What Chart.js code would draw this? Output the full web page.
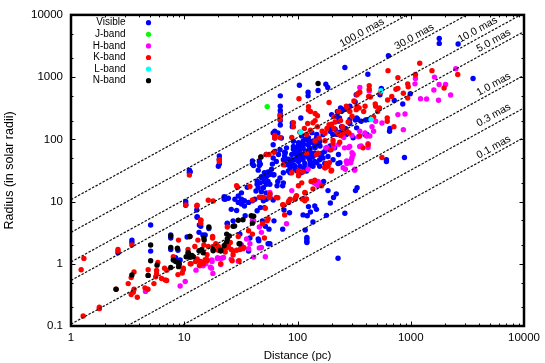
<!DOCTYPE html>
<html>
<head>
<meta charset="utf-8">
<title>Radius vs distance</title>
<script src="https://cdn.jsdelivr.net/npm/chart.js@4"></script>
<style>
    html, body { margin: 0; padding: 0; background: #fff; }
    canvas { display: block; }
</style>
</head>
<body>
<canvas id="chart" width="545" height="363"></canvas>
<script>
// [distance in pc, radius in solar radii]
const visiblePoints = [
    [2.6,1.5],[3.45,2.4],[3.45,2.2],[5.05,4.2],[5.05,1.6],[7.6,2.6],[7.6,1.7],[8.8,1.65],[8.4,1.25],[9.2,1.15],
    [10.3,10],[10.3,9.2],[10.3,8.7],[11.1,31.8],[11.1,29],[11.2,2.75],[10.6,2.7],[12.9,7.3],[13,5.7],[14,4],
    [13.5,3.2],[14.6,2.9],[16.5,3.7],[20.4,54],[20.4,48],[20.4,40],[22.5,11],[22.5,12],[24.5,11.3],[24,4.5],
    [40,45],[40,40],[47,40],[46,44],[53,57],[63,135],[63,120],[63,105],[44,21.5],[48.5,24],[52,28],[56,27],
    [44,19],[47,20],[51,21],[55,21],[53,19],[57,19],[50,16.7],[45,16.7],[43,14.8],[48,14.4],[53,13.8],[57,13],
    [61,27],[57,29],[51,29],[32,13.8],[30,12.3],[28,10.9],[32,10.9],[34,10.3],[30,9.7],[26,7.5],[29,7.2],[32,9.1],
    [34,8.5],[37,9.7],[40,10.3],[42,10.9],[47,11.6],[50,10.3],[53,10.9],[57,11.6],[61,10.6],[44,7.1],[47,8],[51,8],
    [23,10.9],[46,38],[41,38],[36,17],[11.3,30],[20,37],[13,5.6],[13.6,4.2],[15.3,2.9],[24,4.4],[27,4.9],[7.6,2.9],
    [45,2.5],[55,2.1],[31,3],[49,4.9],[57,2.1],[45.5,2.35],[37,1.6],[52,4],[56,3.6],[62,4.9],[34.5,5.9],[38,2.6],
    [61,127],[67,127],[72,105],[61,82],[63,64],[77,62],[77,54],[61,50],[65,44],[77,41],[92,93],[92,77],[102,82],
    [112,93],[120,99],[112,73],[105,68],[95,64],[89,57],[98,57],[108,57],[120,64],[128,73],[137,88],[147,105],
    [157,93],[168,119],[142,60],[157,57],[174,64],[193,68],[213,73],[186,53],[206,47],[228,41],[95,47],[102,44],
    [92,39],[86,35],[105,37],[116,41],[128,47],[142,44],[157,47],[174,41],[75,29],[83,31],[95,33],[108,29],[120,31],
    [137,37],[157,37],[67,21],[75,20],[66,18],[74,18],[59,33],[62,27],[186,15],[170,21],[220,13.3],[208,11.6],
    [195,9.5],[336,16.7],[325,15],[142,8.5],[147,7.5],[125,8.3],[130,6.8],[76,7.3],[85,6.6],[112,6.1],[122,5.9],
    [180,6],[262,6.5],[137,4.7],[74,3.6],[117,3.5],[121,2.64],[121,2.5],[121,2.3],[121,2.2],[228,1.23],
    [70,68],[80,73],[86,44],[128,93],[124,82],[142,77],[86,29],[78,39],[102,31],[132,60],[168,50],[98,73],[95,37],
    [120,54],[112,47],[70,24],[83,39],[105,54],[89,47],[116,35],
    [165,60],[135,52],[150,85],[110,78],[100,60],[130,42],[75,47],[60,40],[55,30],[45,32],
    [635,2200],[262,1430],[418,1110],[330,520],[323,400],[240,320],[225,280],[290,340],[255,300],[990,540],[715,420],
    [850,370],[655,150],[650,135],[550,660],[535,520],[400,205],[340,210],[325,205],[290,180],[245,160],[265,150],
    [215,145],[194,135],[235,130],[255,135],[205,120],[270,120],[235,220],[222,235],[410,120],[365,195],
    [1785,4190],[1785,3480],[2620,3400],[3550,950],[178,770],[185,680],[152,610],[124,570],[124,500],[104,740],
    [70.5,500],[70.5,340],[70.5,290],[70.5,256],[70.5,200],[90,183],[90,160],[107,220],[70.5,230],[70.5,170],
    [109,113],[117,100],[125,106],[113,83],[125,83],[138,94],[106,69],[117,65],[129,69],[143,73],[158,78],[99,51],
    [109,51],[125,51],[138,54],[89,38],[99,31],[113,35],[129,38],[148,42],[164,51],[78,61],[68,57],[83,48],[53,25],
    [48,25],[92,69],[102,88],[134,128],[148,120],[194,145],[230,196],[245,283],[200,250],[290,208],[333,221],
    [223,120],[253,145],[194,78],[230,57],[237,42],[310,106],[333,153],[425,208],[395,120],[610,47],[610,44],[880,51]
];
const jBandPoints = [[54,336]];
const hBandPoints = [
    [4.55,.36],[9.2,.44],[10.2,.52],[13.8,.93],[14.7,.93],[15.5,1],[12.7,.79],[17.4,.85],[17.9,.7],[17.6,1.09],
    [19.6,1.22],[21,1.22],[22.2,1.26],[19.7,1.25],[22,1.25],[17.5,1.15],[21,.97],[17,.88],[26,1.18],[30,1.1],
    [46,3.9],[48,3.2],[41,4.9],[35.5,2.5],[38,2.1],[37,1.75],[46,1.8],[41,1.28],[52,1.3],[40,5],[32,2],[48,1.83],
    [354,77],[406,113],[435,113],[289,77],[260,73],[310,57],[300,47],[270,44],[289,44],[273,41],[253,35],[320,32],
    [124,33],[152,21],[147,19],[152,18],[140,20],[116,10.9],[89,15],[80,4.4],[57,14],[178,73],
    [355,680],[430,600],[1100,1100],[1100,950],[1090,780],[2500,1360],[1620,1000],[1780,760],[2030,760],[1600,620],
    [2250,515],[1220,450],[1380,445],[1760,425],[890,256],[770,250],[860,143],[490,195],[557,183],[455,160],[355,135],
    [395,127],[470,135],[365,78],[420,85],[420,74],[303,61],[303,51],[273,45],[320,33],[265,33],[295,42],[182,74],
    [209,74],[231,83],[282,74],[256,107],[303,115],[345,110],[154,20]
];
const kBandPoints = [
    [1.23,.8],[1.3,1.22],[1.28,.145],[1.78,.2],[1.78,.19],[2.5,.39],[2.6,1.7],[2.6,1.6],[3.45,2],[3.2,.48],[3.4,.6],
    [3.6,.74],[3.6,.39],[3.55,.35],[3.4,.32],[3.85,.29],[4.5,.41],[4.78,.39],[4.8,.65],[5.85,1.05],[5.7,.78],[5.7,.69],
    [5.6,.62],[5.4,.48],[4.8,.8],[6.3,.58],[6.8,.55],[7,.54],[6.7,.85],[7,.79],[8,1.3],[9.8,.8],[9.6,.71],[8.8,.67],
    [8.9,2.4],[10.3,8.8],[11.1,26.6],[18,10.2],[12.9,8.5],[14,5],[14,4.5],[11.2,2.75],[13.2,2.4],[17.8,2.75],[17.8,2.6],
    [16.3,1.9],[18,1.9],[19,2.1],[10.8,1.7],[11.5,1],[12.6,1.09],[13.9,1.09],[15.3,1.16],[15.9,1.16],[21,1],
    [23,2.05],[23.7,1.83],[24.5,1.95],[22,1.7],[25.5,2.2],[24,3.9],[29.5,17],[20.4,47],[20.4,44],[47.5,52],[53,57],[56,57],
    [63,115],[63,105],[29,18],[38,17.5],[16.3,10.5],[13,8.7],[14,5],[57,13.3],[56,12],[67,11.5],[50,11.7],[46,11.7],
    [40,10.6],[52,7.8],[55,5.3],[49,4.4],[33,1.75],[31,1.7],[29,1.65],[26,1.7],[27,1.4],
    [11.3,1],[9.8,.85],[13.6,.94],[14.7,1],[15.9,1.13],[15.9,1.4],[13,1.2],[12.4,1.9],[14.9,2],[20,1.9],[24,1.85],
    [23,1.55],[20,1.65],[51,2.6],[27,1.6],[30.5,1.12],[26.5,1.12],[32.5,1.77],[33.5,1.83],[30,2.75],[40,3],[37,3.4],[54,4.9],
    [89,107],[70,107],[62,62],[120,60],[147,57],[152,60],[198,68],[206,96],[236,90],[253,127],[285,127],[354,113],
    [379,73],[420,82],[206,85],[180,41],[174,35],[186,37],[198,31],[102,31],[112,30],[89,29],[102,26],[142,22],[132,21],
    [109,20],[102,18],[137,16],[163,18],[116,14],[98,12.4],[95,10.9],[86,10.9],[83,9.7],[75,8.8],[116,10.3],[120,11],
    [77,6.1],[65,11.6],[57,11.6],[75,39],[84,10.2],[96,11.5],[117,13.8],[110,11],[74,8.9],
    [115,150],[130,140],[165,135],[175,125],[210,150],[225,125],[240,115],[120,120],[105,130],[155,105],[175,95],
    [215,190],[240,200],[280,190],[150,240],[130,280],
    [103,450],[125,336],[125,295],[143,260],[70,243],[70,210],[190,390],[92,185],[92,160],[123,180],[137,185],[150,160],
    [190,172],[272,336],[290,280],[330,300],[395,340],[440,480],[345,550],[490,340],
    [1200,1667],[630,1270],[770,980],[1540,1270],[2600,1100],[1100,1090],[940,780],[950,700],[770,660],[740,640],[860,550],
    [940,460],[1970,670],[625,430],[680,490],[540,570],[430,730],[430,640],[355,570],[335,520],[425,490],[315,415],
    [270,340],[280,300],[486,370],[530,320],[510,280],[384,280],[231,280],[209,230],[143,200],[200,175],[182,150],
    [250,160],[273,135],[303,235],[335,340],[350,320],[470,230],[620,220],[620,195],[710,160],[557,51],[143,94],
    [176,35],[191,42],[200,32],[256,135]
];
const lBandPoints = [[107,130],[447,208],[546,604]];
const nBandPoints = [
    [2.5,.39],[3.45,.66],[4.8,.65],[5.05,2],[5.05,1.12],[5.75,.95],[7.6,.87],[7.6,2.8],[7.6,1.83],[8.7,1.78],[8,1.15],
    [8.4,1.09],[8.8,1.05],[9.05,.99],[8.9,.9],[11.2,2.75],[10.8,1.5],[10.9,1.47],[11.7,1.36],[12,1.3],[11.3,1.27],[10.4,1.3],
    [13.5,1.62],[14.3,1.7],[14.7,1.5],[16.5,3.9],[14.9,2.6],[18,1.7],[18,1.62],[21,1.6],[21,1.65],[23.7,3],[25,2.8],[24,2.5],
    [23.7,2.25],[22.5,1.95],[27.8,4.05],[30,5],[39,5.9],[31,2.1],[41,5.8],[33,5.1],[27,4],[40,4.5],[30.5,2.1],[15,2.4],
    [47.5,52],[152,790]
];

const seriesNames = ['Visible', 'J-band', 'H-band', 'K-band', 'L-band', 'N-band'];
const seriesColors = ['#0000ff', '#00ff00', '#ff00ff', '#ff0000', '#00ffff', '#000000'];
const seriesPoints = [visiblePoints, jBandPoints, hBandPoints, kBandPoints, lBandPoints, nBandPoints];

// lines of constant angular diameter: radius at 1 pc and at 10000 pc
const lineNames = ['100.0 mas', '30.0 mas', '10.0 mas', '5.0 mas', '1.0 mas', '0.3 mas', '0.1 mas'];
const lineRadiusNear = [10.75, 3.2, 1.07, 0.54, 0.107, 0.032, 0.0107];
const lineRadiusFar = [107500, 32000, 10700, 5400, 1070, 320, 107];
const lineLabelDist = [371, 1074, 3900, 5400, 5400, 5400, 5400];
const lineLabelRad = [5155, 4450, 5760, 3840, 762, 244, 75];

const xTicks = [1,2,3,4,5,6,7,8,9,10,20,30,40,50,60,70,80,90,100,200,300,400,500,600,700,800,900,1000,2000,3000,4000,5000,6000,7000,8000,9000,10000];
const yTicks = [0.1,0.2,0.5,1,2,5,10,20,50,100,200,500,1000,2000,5000,10000];
const xTickLabels = [1,10,100,1000,10000];
const yTickLabels = [0.1,1,10,100,1000,10000];

const datasets = [];
lineNames.forEach((name, i) => {
    datasets.push({
        label: name,
        type: 'line',
        data: [{x: 1, y: lineRadiusNear[i]}, {x: 10000, y: lineRadiusFar[i]}],
        borderColor: '#111',
        borderWidth: 1.2,
        borderDash: [2.5, 1.5],
        pointRadius: 0,
        fill: false,
        order: 0
    });
});
seriesNames.forEach((name, i) => {
    datasets.push({
        label: name,
        data: seriesPoints[i].map(p => ({x: p[0], y: p[1]})),
        backgroundColor: seriesColors[i],
        borderWidth: 0,
        pointRadius: 2.7,
        order: 6 - i
    });
});

// frame, inward ticks on all four sides, legend and the slanted line labels
const decorations = {
    id: 'decorations',
    afterDraw(chart) {
        const ctx = chart.ctx;
        const area = chart.chartArea;
        const x = chart.scales.x;
        const y = chart.scales.y;
        ctx.save();

        ctx.strokeStyle = '#000';
        ctx.lineWidth = 1;
        ctx.beginPath();
        xTicks.forEach(v => {
            const px = Math.round(x.getPixelForValue(v)) + 0.5;
            const len = xTickLabels.includes(v) ? 4.5 : 2.5;
            ctx.moveTo(px, area.bottom); ctx.lineTo(px, area.bottom - len);
            ctx.moveTo(px, area.top); ctx.lineTo(px, area.top + len);
        });
        yTicks.forEach(v => {
            const py = Math.round(y.getPixelForValue(v)) + 0.5;
            const len = yTickLabels.includes(v) ? 4.5 : 2.5;
            ctx.moveTo(area.left, py); ctx.lineTo(area.left + len, py);
            ctx.moveTo(area.right, py); ctx.lineTo(area.right - len, py);
        });
        ctx.stroke();

        ctx.lineWidth = 2.5;
        ctx.strokeRect(area.left, area.top, area.right - area.left, area.bottom - area.top);

        ctx.font = '10px "Liberation Sans"';
        ctx.textBaseline = 'middle';
        ctx.textAlign = 'right';
        seriesNames.forEach((name, i) => {
            const rowY = 22.7 + i * 11.6;
            ctx.fillStyle = '#000';
            ctx.fillText(name, 125.5, rowY);
            ctx.fillStyle = seriesColors[i];
            ctx.beginPath();
            ctx.arc(148.5, rowY, 2.6, 0, Math.PI * 2);
            ctx.fill();
        });

        ctx.fillStyle = '#000';
        ctx.font = '10.5px "Liberation Sans"';
        ctx.textAlign = 'center';
        lineNames.forEach((name, i) => {
            ctx.save();
            ctx.translate(x.getPixelForValue(lineLabelDist[i]), y.getPixelForValue(lineLabelRad[i]));
            ctx.rotate(-29 * Math.PI / 180);
            ctx.fillText(name, 0, 0);
            ctx.restore();
        });
        ctx.restore();
    }
};

new Chart(document.getElementById('chart').getContext('2d'), {
    type: 'scatter',
    data: {datasets: datasets},
    options: {
        responsive: false,
        animation: false,
        layout: {padding: {top: 13, right: 21, left: 0, bottom: 0}},
        plugins: {legend: {display: false}, tooltip: {enabled: false}},
        scales: {
            x: {
                type: 'logarithmic',
                min: 1,
                max: 10000,
                afterBuildTicks: scale => { scale.ticks = xTicks.map(v => ({value: v})); },
                afterFit: scale => { scale.height = 37; },
                grid: {display: false, drawTicks: false},
                border: {display: false},
                ticks: {
                    autoSkip: false,
                    maxRotation: 0,
                    padding: 5,
                    color: '#000',
                    font: {family: 'Liberation Sans', size: 11.5},
                    callback: v => xTickLabels.includes(v) ? String(v) : ''
                },
                title: {
                    display: true,
                    text: 'Distance (pc)',
                    color: '#000',
                    padding: {top: 3, bottom: 0},
                    font: {family: 'Liberation Sans', size: 11.5}
                }
            },
            y: {
                type: 'logarithmic',
                min: 0.1,
                max: 10000,
                afterBuildTicks: scale => { scale.ticks = yTicks.map(v => ({value: v})); },
                afterFit: scale => { scale.width = 71; },
                grid: {display: false, drawTicks: false},
                border: {display: false},
                ticks: {
                    autoSkip: false,
                    padding: 8,
                    color: '#000',
                    font: {family: 'Liberation Sans', size: 11.5},
                    callback: v => yTickLabels.includes(v) ? String(v) : ''
                },
                title: {
                    display: true,
                    text: 'Radius (in solar radii)',
                    color: '#000',
                    padding: {top: 2, bottom: 0},
                    font: {family: 'Liberation Sans', size: 12.5}
                }
            }
        }
    },
    plugins: [decorations]
});
</script>
</body>
</html>
